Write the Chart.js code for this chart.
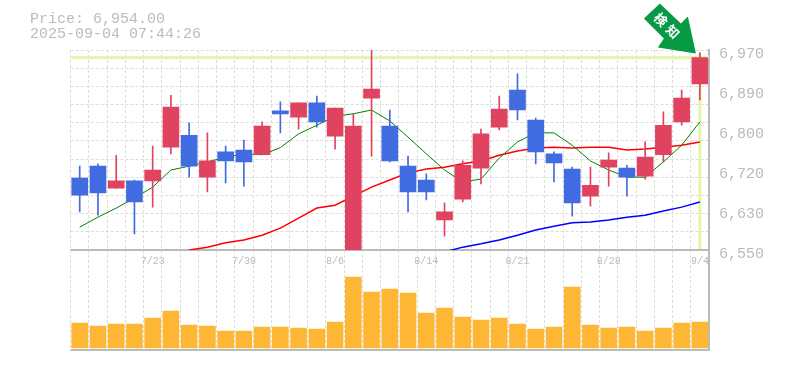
<!DOCTYPE html>
<html>
<head>
<meta charset="utf-8">
<style>
  body { margin: 0; background: #fff; }
  canvas { display: block; }
</style>
<script src="https://cdn.jsdelivr.net/npm/chart.js@4"></script>
</head>
<body>
<canvas id="priceChart" width="785" height="370"></canvas>
<script>
const dates = ['7/16','7/17','7/18','7/22','7/23','7/24','7/25','7/28','7/29','7/30','7/31','8/1','8/4','8/5','8/6','8/7','8/8','8/12','8/13','8/14','8/15','8/18','8/19','8/20','8/21','8/22','8/25','8/26','8/27','8/28','8/29','9/1','9/2','9/3','9/4'];
const xTickLabels = ['7/23','7/30','8/6','8/14','8/21','8/28','9/4'];
const priceTicks = [6970,6886,6802,6718,6634,6550];

const opens  = [6701,6726,6680,6695,6695,6766,6791,6703,6756,6760,6750,6842,6829,6859,6789,6520,6869,6810,6726,6697,6613,6657,6722,6808,6886,6823,6752,6720,6663,6724,6722,6705,6750,6819,6899];
const closes = [6665,6670,6695,6651,6718,6850,6726,6737,6737,6735,6810,6836,6859,6819,6848,6810,6888,6737,6672,6672,6630,6728,6794,6846,6844,6756,6733,6649,6686,6739,6703,6745,6812,6869,6954];
const highs  = [6726,6731,6749,6697,6768,6875,6817,6796,6768,6781,6819,6861,6859,6873,6848,6836,6975,6844,6747,6710,6649,6737,6804,6873,6920,6827,6756,6724,6724,6754,6728,6777,6840,6886,6964];
const lows   = [6630,6623,6680,6584,6640,6752,6703,6672,6691,6684,6750,6796,6804,6808,6762,6510,6747,6735,6630,6655,6579,6651,6689,6802,6823,6731,6693,6621,6642,6684,6663,6699,6735,6812,6865];

const maShort = [6598,6619,6638,6659,6682,6718,6726,6735,6745,6752,6750,6765,6794,6812,6831,6836,6844,6821,6787,6752,6718,6693,6699,6743,6777,6796,6796,6770,6737,6718,6703,6703,6735,6770,6819];
const maMid = [null,null,null,null,null,null,6550,6556,6565,6571,6581,6596,6617,6638,6644,6663,6682,6697,6712,6720,6724,6731,6737,6749,6758,6764,6766,6764,6766,6766,6760,6762,6766,6770,6777];
const maLong = [null,null,null,null,null,null,null,null,null,null,null,null,null,null,null,null,null,null,null,null,6546,6556,6563,6571,6581,6592,6600,6607,6609,6613,6619,6623,6632,6640,6651];
const volumes = [75,66,72,72,90,111,69,66,51,51,63,63,60,57,78,213,168,177,165,105,120,93,84,90,72,57,63,183,69,60,63,51,60,75,78];

const lastPrice = 6954;
const headerLines = ['Price: 6,954.00', '2025-09-04 07:44:26'];
const badgeText = '検知';

const UP = '#E0435F';
const DOWN = '#416BE1';
const candleColors = closes.map((c, i) => (c >= opens[i] ? UP : DOWN));

// clip everything price related to the upper panel
const priceClip = { left: 0, top: 0, right: 0, bottom: -100 };

const lineDataset = (data, color, width) => ({
  type: 'line',
  data: data,
  yAxisID: 'y',
  borderColor: color,
  borderWidth: width,
  pointRadius: 0,
  tension: 0,
  clip: priceClip,
  order: 3,
});

const headerAndCrosshair = {
  id: 'headerAndCrosshair',
  beforeDatasetsDraw(chart) {
    const { ctx, chartArea, scales } = chart;
    const y = scales.y.getPixelForValue(lastPrice);
    const x = scales.x.getPixelForValue(dates.length - 1);
    ctx.save();
    ctx.fillStyle = '#E2F6A6';
    ctx.fillRect(chartArea.left, y - 1.5, chartArea.width, 3);
    ctx.fillRect(x - 1.5, chartArea.top + 2, 3, scales.y.getPixelForValue(6550) - chartArea.top - 3);
    ctx.restore();
  },
  afterDraw(chart) {
    const { ctx, scales } = chart;
    ctx.save();
    ctx.fillStyle = '#bbb';
    ctx.font = '15px "Liberation Mono"';
    ctx.textBaseline = 'alphabetic';
    ctx.fillText(headerLines[0], 30, 23);
    ctx.fillText(headerLines[1], 30, 38);

    // arrow badge, hung off the last candle
    const tipX = scales.x.getPixelForValue(dates.length - 1) - 4;
    const tipY = scales.y.getPixelForValue(closes[closes.length - 1]) - 4;
    ctx.translate(tipX, tipY);
    ctx.fillStyle = '#069A45';
    ctx.beginPath();
    ctx.moveTo(0, 0);
    ctx.lineTo(-38, -6);
    ctx.lineTo(-32, -15);
    ctx.lineTo(-52, -35);
    ctx.lineTo(-36, -50);
    ctx.lineTo(-15, -30);
    ctx.lineTo(-8, -37);
    ctx.closePath();
    ctx.fill();
    ctx.translate(-29, -28);
    ctx.rotate(Math.PI / 4);
    ctx.fillStyle = '#fff';
    ctx.font = 'bold 13px "Noto Sans CJK JP"';
    ctx.letterSpacing = '4px';
    ctx.textAlign = 'center';
    ctx.textBaseline = 'middle';
    ctx.fillText(badgeText, 2, 0);
    ctx.restore();
  },
};

new Chart(document.getElementById('priceChart').getContext('2d'), {
  data: {
    labels: dates,
    datasets: [
      {
        type: 'bar',
        data: opens.map((o, i) => [o, closes[i]]),
        yAxisID: 'y',
        backgroundColor: candleColors,
        barThickness: 16,
        grouped: false,
        clip: priceClip,
        order: 1,
      },
      {
        type: 'bar',
        data: lows.map((l, i) => [l, highs[i]]),
        yAxisID: 'y',
        backgroundColor: candleColors,
        barThickness: 1,
        grouped: false,
        clip: priceClip,
        order: 2,
      },
      lineDataset(maShort, '#008000', 1),
      lineDataset(maMid, '#ff0000', 1.5),
      lineDataset(maLong, '#0000ff', 1.5),
      {
        type: 'bar',
        data: volumes,
        yAxisID: 'yVol',
        backgroundColor: '#FEB734',
        barThickness: 16,
        grouped: false,
        order: 1,
      },
    ],
  },
  options: {
    responsive: false,
    animation: false,
    layout: { padding: { left: 70.6, top: 50, bottom: 20, right: 0 } },
    plugins: { legend: { display: false }, tooltip: { enabled: false } },
    scales: {
      x: {
        type: 'category',
        offset: true,
        afterFit(scale) {
          scale.height = 0;
          // mirrored labels sit inside the plot, they need no side margin
          scale.paddingLeft = 0;
          scale.paddingRight = 0;
        },
        grid: { offset: true, color: '#ddd', drawTicks: false },
        border: { display: false, dash: [3, 2] },
        ticks: {
          autoSkip: false,
          maxRotation: 0,
          mirror: true,
          padding: 83,
          color: '#bbb',
          font: { family: '"Liberation Mono"', size: 10 },
          callback(value) {
            const label = this.getLabelForValue(value);
            return xTickLabels.includes(label) ? label : '';
          },
        },
      },
      y: {
        position: 'right',
        weight: 5,
        min: 6340,
        max: 6970,
        afterFit(scale) { scale.width = 76; },
        afterBuildTicks(scale) { scale.ticks = priceTicks.map((v) => ({ value: v })); },
        grid: { display: false, drawTicks: false },
        border: { display: false },
        ticks: {
          padding: 10,
          labelOffset: 4,
          color: '#bbb',
          font: { family: '"Liberation Mono"', size: 15 },
          callback: (v) => (Math.round(v / 10) * 10).toLocaleString('en-US'),
        },
      },
      // dashed rows of the price panel, 11 divisions from 6550 to 6970
      yGrid: {
        position: 'right',
        min: 0,
        max: 16.5,
        afterFit(scale) { scale.width = 0; },
        afterBuildTicks(scale) {
          scale.ticks = [5.5, 6.5, 7.5, 8.5, 9.5, 10.5, 11.5, 12.5, 13.5, 14.5, 15.5, 16.5].map((v) => ({ value: v }));
        },
        grid: { color: '#ddd', drawTicks: false },
        border: { display: false, dash: [3, 2] },
        ticks: { display: false },
      },
      // solid panel frame
      yFrame: {
        position: 'right',
        min: 0,
        max: 3,
        afterFit(scale) { scale.width = 0; },
        afterBuildTicks(scale) { scale.ticks = [{ value: 0 }, { value: 1 }]; },
        grid: { color: '#bbb', lineWidth: 2, drawTicks: false },
        border: { display: true, color: '#bbb', width: 2 },
        ticks: { display: false },
      },
      yVol: {
        display: false,
        min: -6,
        max: 894,
      },
    },
  },
  plugins: [headerAndCrosshair],
});
</script>
</body>
</html>
